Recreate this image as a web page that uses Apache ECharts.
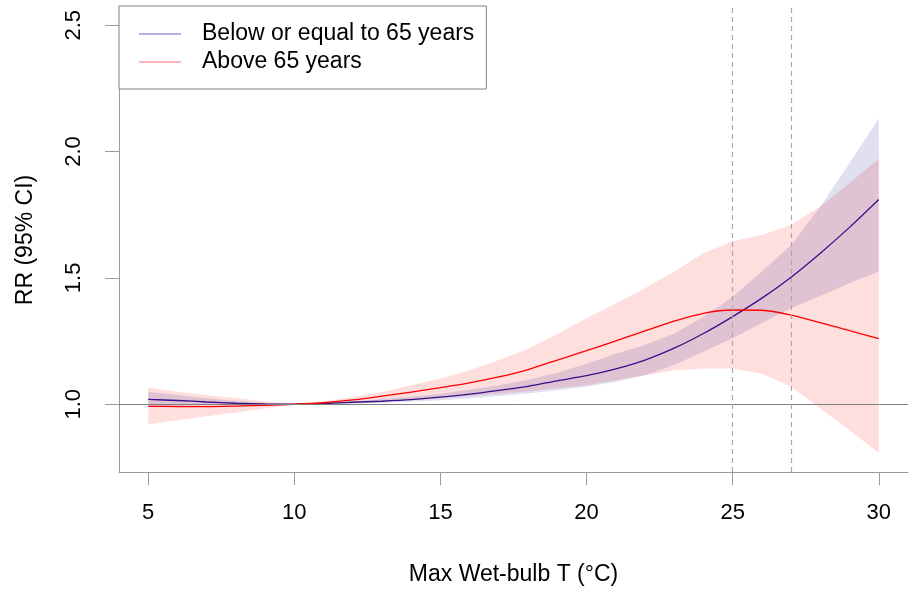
<!DOCTYPE html>
<html>
<head>
<meta charset="utf-8">
<script src="https://cdn.jsdelivr.net/npm/echarts@6/dist/echarts.min.js"></script>
<style>html,body{margin:0;padding:0;background:#fff;}#c{width:909px;height:589px;}</style>
</head>
<body>
<div id="c"></div>
<script>
// Temperature grid (°C)
var temps = [5,6,7,8,9,10,11,12,13,14,15,16,17,18,19,20,21,22,23,24,25,26,27,28,29,30];
// Below or equal to 65 years
var youngRR    = [1.019,1.015,1.009,1.004,1.001,1.000,1.003,1.008,1.012,1.018,1.028,1.040,1.055,1.071,1.093,1.113,1.140,1.175,1.222,1.280,1.347,1.420,1.503,1.598,1.700,1.810];
var youngLow   = [0.990,0.993,0.996,0.998,0.999,1.000,1.001,1.003,1.006,1.010,1.016,1.024,1.033,1.043,1.055,1.069,1.089,1.115,1.155,1.208,1.261,1.322,1.380,1.428,1.479,1.525];
var youngHigh  = [1.050,1.037,1.024,1.013,1.005,1.000,1.005,1.012,1.020,1.030,1.042,1.058,1.075,1.097,1.125,1.160,1.200,1.235,1.280,1.345,1.425,1.525,1.630,1.783,1.955,2.131];
// Above 65 years
var oldRR      = [0.992,0.991,0.991,0.993,0.996,1.000,1.006,1.017,1.032,1.048,1.066,1.085,1.108,1.137,1.175,1.212,1.251,1.290,1.329,1.360,1.373,1.372,1.353,1.323,1.291,1.260];
var oldLow     = [0.921,0.937,0.953,0.967,0.983,1.000,1.002,1.005,1.010,1.017,1.025,1.033,1.042,1.052,1.063,1.075,1.095,1.115,1.135,1.142,1.142,1.121,1.069,0.983,0.897,0.807];
var oldHigh    = [1.066,1.050,1.037,1.024,1.012,1.000,1.012,1.029,1.049,1.075,1.102,1.135,1.175,1.220,1.278,1.340,1.399,1.459,1.525,1.598,1.645,1.670,1.710,1.783,1.876,1.971];
var xTicks = [5,10,15,20,25,30];
var yTicks = [1.0,1.5,2.0,2.5];
var vLines = [25,27];
var names = ['Below or equal to 65 years','Above 65 years'];

function pairs(ys){ return temps.map(function(t,i){ return [t, ys[i]]; }); }
function bandData(lo, hi){ return temps.map(function(t,i){ return [t, lo[i], hi[i]]; }); }

function bandSeries(name, lo, hi, color){
  var d = bandData(lo, hi);
  return {
    name:name, type:'custom', silent:true, z:1,
    data:d,
    encode:{x:0, y:[1,2]},
    renderItem:function(params, api){
      if (params.dataIndex !== 0) return null;
      var top = [], bot = [];
      for (var i = 0; i < d.length; i++){
        top.push(api.coord([d[i][0], d[i][2]]));
        bot.push(api.coord([d[i][0], d[i][1]]));
      }
      var pts = top.concat(bot.reverse());
      return {type:'polygon', shape:{points:pts}, style:{fill:color, stroke:null}};
    }
  };
}

var FONT = 'Liberation Sans, Arial, sans-serif';
var chart = echarts.init(document.getElementById('c'), null, {renderer:'canvas'});
var option = {
  animation:false,
  backgroundColor:'#ffffff',
  grid:{left:119, right:1, top:8, bottom:117, containLabel:false, outerBoundsMode:'none'},
  legend:{
    left:119, top:6, orient:'vertical',
    backgroundColor:'#ffffff',
    borderColor:'#808080', borderWidth:1, borderRadius:0,
    padding:[14,12,13,20],
    itemWidth:42, itemHeight:2, itemGap:0,
    selectedMode:false,
    textStyle:{fontFamily:FONT, fontSize:23, color:'#000', lineHeight:28, padding:[0,0,0,16]},
    data:[
      {name:names[0], icon:'rect', itemStyle:{color:'#B0B0E2', borderWidth:0}},
      {name:names[1], icon:'rect', itemStyle:{color:'#FFB4B4', borderWidth:0}}
    ]
  },
  xAxis:{
    type:'value', min:4, max:31,
    name:'Max Wet-bulb T (°C)', nameLocation:'middle', nameGap:91,
    nameTextStyle:{fontFamily:FONT, fontSize:23, color:'#000'},
    axisLine:{show:true, onZero:false, lineStyle:{color:'#9a9a9a', width:1}},
    axisTick:{show:true, length:13, customValues:xTicks, lineStyle:{color:'#9a9a9a'}},
    axisLabel:{customValues:xTicks, margin:30, fontFamily:FONT, fontSize:22, color:'#000'},
    splitLine:{show:false}
  },
  yAxis:{
    type:'value', min:0.732, max:2.568,
    name:'RR (95% CI)', nameLocation:'middle', nameGap:82, nameRotate:90,
    nameTextStyle:{fontFamily:FONT, fontSize:23, color:'#000'},
    axisLine:{show:true, onZero:false, lineStyle:{color:'#9a9a9a', width:1}},
    axisTick:{show:true, length:14, customValues:yTicks, lineStyle:{color:'#9a9a9a'}},
    axisLabel:{customValues:yTicks, rotate:90, margin:34, fontFamily:FONT, fontSize:22, color:'#000',
      formatter:function(v){ return v.toFixed(1); }},
    splitLine:{show:false}
  },
  series:[
    bandSeries('oldBand', oldLow, oldHigh, 'rgba(255,0,0,0.13)'),
    bandSeries('youngBand', youngLow, youngHigh, 'rgba(0,0,128,0.12)'),
    {name:'refLines', type:'line', data:[], symbol:'none', silent:true,
      markLine:{silent:true, symbol:'none', label:{show:false}, animation:false,
        data:[{yAxis:1, lineStyle:{color:'#808080', width:1, type:'solid'}}].concat(
          vLines.map(function(v){ return {xAxis:v, lineStyle:{color:'#a8a8a8', width:1.2, type:[5,4]}}; }))}},
    {name:names[0], type:'line', data:pairs(youngRR), symbol:'none', smooth:0.25, z:3,
      lineStyle:{color:'#34118a', width:1.3}, itemStyle:{color:'#B0B0E2'}},
    {name:names[1], type:'line', data:pairs(oldRR), symbol:'none', smooth:0.25, z:3,
      lineStyle:{color:'#ff0000', width:1.3}, itemStyle:{color:'#FFB4B4'}}
  ]
};
chart.setOption(option);
</script>
</body>
</html>
